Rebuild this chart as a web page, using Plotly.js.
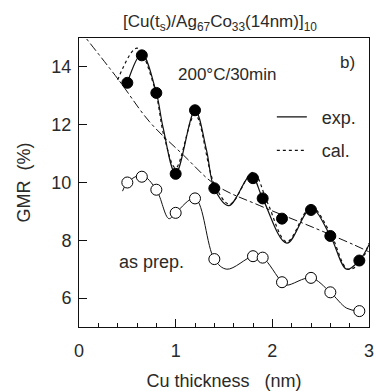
<!DOCTYPE html>
<html>
<head>
<meta charset="utf-8">
<script src="https://cdn.plot.ly/plotly-3.0.1.min.js"></script>
<style>html,body{margin:0;padding:0;background:#fff;}#chart{width:374px;height:391px;}</style>
</head>
<body>
<div id="chart"></div>
<script>
// Measured points: annealed 200°C/30min (filled) and as-prepared (open)
const thickness = [0.5, 0.65, 0.8, 1.0, 1.2, 1.4, 1.8, 1.9, 2.1, 2.4, 2.6, 2.9];
const gmrAnnealed = [13.45, 14.4, 13.1, 10.3, 12.5, 9.8, 10.15, 9.45, 8.75, 9.05, 8.15, 7.3];
const gmrAsPrep = [10.0, 10.2, 9.75, 8.95, 9.45, 7.35, 7.45, 7.4, 6.55, 6.7, 6.2, 5.55];

// Curves
const expX = [0.5, 0.65, 0.8, 0.87, 1.0, 1.2, 1.32, 1.4, 1.55, 1.78, 1.9, 2.15, 2.4, 2.6, 2.77, 2.9, 3.0];
const expY = [13.45, 14.45, 13.1, 11.9, 10.3, 12.5, 11.1, 9.8, 9.2, 10.25, 9.45, 7.9, 9.1, 8.15, 7.0, 7.3, 7.85];
const calX = [0.4, 0.6, 0.78, 0.88, 1.0, 1.2, 1.4, 1.56, 1.8, 1.95, 2.15, 2.4, 2.6, 2.78, 2.9, 3.0];
const calY = [13.55, 14.65, 13.3, 11.6, 10.5, 12.35, 9.95, 9.25, 10.35, 9.3, 7.95, 9.15, 8.25, 7.0, 7.2, 7.9];
const baseX = [0.0, 0.41, 0.73, 1.08, 1.42, 1.87, 2.42, 2.84, 3.0];
const baseY = [15.3, 13.55, 12.1, 10.95, 9.9, 9.2, 8.45, 7.85, 7.6];
const prepX = [0.45, 0.5, 0.65, 0.8, 0.93, 1.0, 1.2, 1.4, 1.53, 1.8, 1.9, 2.1, 2.15, 2.4, 2.6, 2.77, 2.9];
const prepY = [9.7, 10.0, 10.25, 9.75, 8.75, 8.95, 9.45, 7.35, 7.0, 7.45, 7.4, 6.55, 6.45, 6.7, 6.2, 5.65, 5.55];

const xTicks = [0, 1, 2, 3];
const yTicks = [6, 8, 10, 12, 14];

const FONT = 'Liberation Sans, Arial, sans-serif';
const INK = '#111';
const TXT = '#2a2a2a';

const traces = [
  {x: baseX, y: baseY, mode: 'lines', line: {color: INK, width: 1, dash: 'dashdot', shape: 'spline'}, showlegend: false, hoverinfo: 'skip'},
  {x: expX, y: expY, mode: 'lines', name: '\u00a0\u00a0exp.', legendgroup: 'a', line: {color: INK, width: 1.2, shape: 'spline'}},
  {x: calX, y: calY, mode: 'lines', name: '\u00a0\u00a0cal.', legendgroup: 'b', line: {color: INK, width: 1.2, dash: 'dot', shape: 'spline'}},
  {x: prepX, y: prepY, mode: 'lines', line: {color: INK, width: 1, shape: 'spline'}, showlegend: false},
  {x: thickness, y: gmrAnnealed, mode: 'markers', marker: {symbol: 'circle', size: 11, color: '#000', line: {color: '#000', width: 1}}, showlegend: false},
  {x: thickness, y: gmrAsPrep, mode: 'markers', marker: {symbol: 'circle', size: 11, color: '#fff', line: {color: '#000', width: 1}}, showlegend: false}
];

const layout = {
  width: 374, height: 391,
  margin: {l: 79, r: 5, t: 38, b: 64},
  paper_bgcolor: '#fff', plot_bgcolor: '#fff',
  font: {family: FONT, size: 18, color: TXT},
  title: {text: '[Cu(t<sub>s</sub>)/Ag<sub>67</sub>Co<sub>33</sub>(14nm)]<sub>10</sub>', font: {family: FONT, size: 17, color: TXT}, x: 0.588, xref: 'container', xanchor: 'center', y: 0.945, yref: 'container', yanchor: 'middle'},
  xaxis: {
    range: [0, 3], tickvals: xTicks, ticktext: xTicks.map(String),
    ticks: 'inside', ticklen: 8, tickcolor: INK, tickwidth: 1,
    minor: {dtick: 0.2, tick0: 0, ticks: 'inside', ticklen: 4, tickcolor: INK, tickwidth: 1},
    showline: true, linecolor: INK, linewidth: 1, mirror: true, showgrid: false, zeroline: false,
    ticklabelstandoff: 7, ticklabeloverflow: 'allow', tickfont: {family: FONT, size: 18, color: TXT},
    title: {text: 'Cu thickness \u00a0\u00a0(nm)', font: {family: FONT, size: 18, color: TXT}, standoff: 14}
  },
  yaxis: {
    range: [5, 15], tickvals: yTicks, ticktext: yTicks.map(String),
    ticks: 'inside', ticklen: 8, tickcolor: INK, tickwidth: 1,
    showline: true, linecolor: INK, linewidth: 1, mirror: true, showgrid: false, zeroline: false,
    ticklabelstandoff: 3, tickfont: {family: FONT, size: 18, color: TXT},
    title: {text: 'GMR \u00a0(%)', font: {family: FONT, size: 18, color: TXT}, standoff: 16}
  },
  showlegend: true,
  legend: {x: 0.665, y: 0.79, xanchor: 'left', yanchor: 'top', bgcolor: 'rgba(0,0,0,0)', borderwidth: 0, font: {family: FONT, size: 18, color: TXT}, traceorder: 'grouped', tracegroupgap: 7},
  annotations: [
    {x: 2.78, y: 14.15, xref: 'x', yref: 'y', text: 'b)', showarrow: false, font: {family: FONT, size: 17, color: TXT}},
    {x: 1.53, y: 13.75, xref: 'x', yref: 'y', text: '200°C/30min', showarrow: false, font: {family: FONT, size: 17, color: TXT}},
    {x: 0.755, y: 7.25, xref: 'x', yref: 'y', text: 'as prep.', showarrow: false, font: {family: FONT, size: 18, color: TXT}}
  ]
};

Plotly.newPlot('chart', traces, layout, {displayModeBar: false, staticPlot: true});
</script>
</body>
</html>
